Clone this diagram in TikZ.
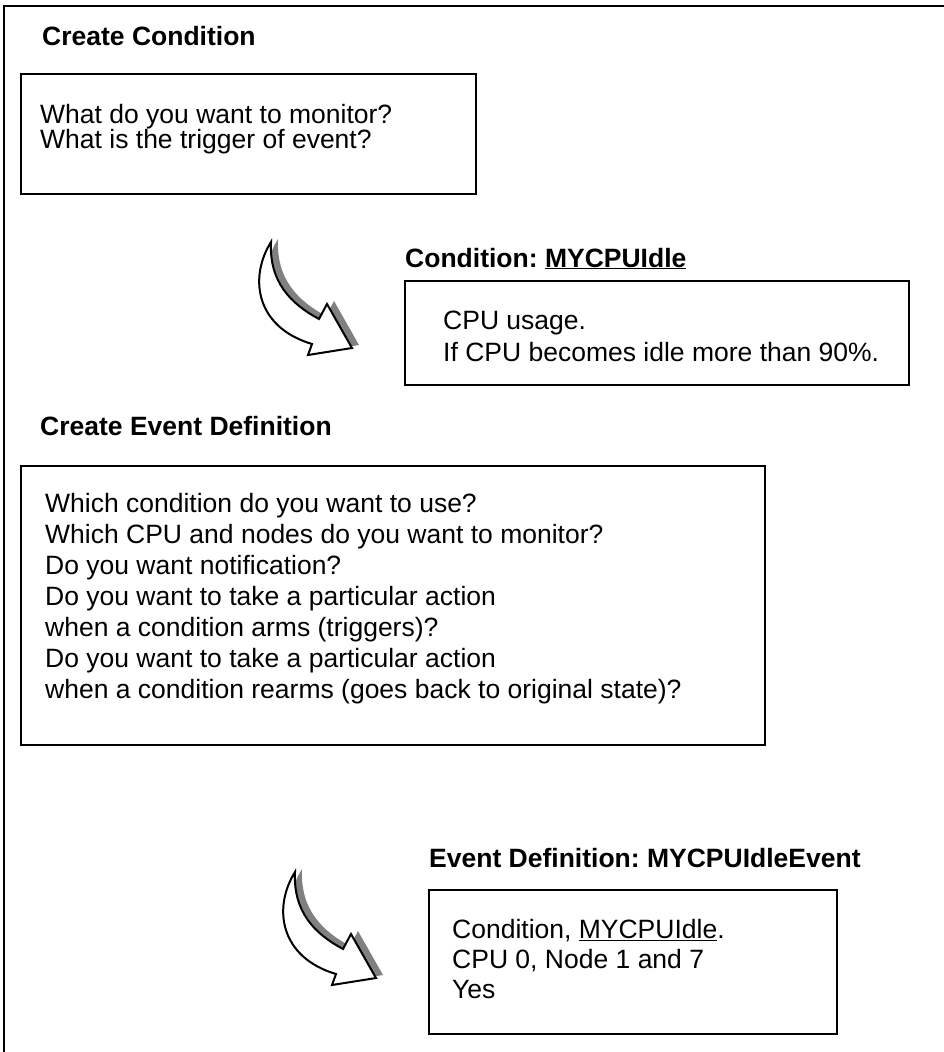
\documentclass[tikz,border=0pt]{standalone}
\usepackage{fontspec}
\setmainfont{Liberation Sans}
\frenchspacing
\definecolor{shadowgray}{HTML}{808080}
\tikzset{
  box/.style={draw, line width=2pt, anchor=north west, inner sep=0pt},
  txt/.style={anchor=north west, inner sep=0pt, align=left},
  ttl/.style={anchor=base west, inner sep=0pt, font=\bfseries\fontsize{26.5}{31}\selectfont},
  curvearrow/.pic={
    \fill[shadowgray, shift={(7,-3)}] (0,0) .. controls (-22,35) and (-16,85) .. (41,102)
      -- (37,113) -- (81,106) -- (56,62) -- (48,77) .. controls (20,62) and (-2,40) .. (0,0) -- cycle;
    \filldraw[fill=white, draw=black, line width=2pt, line join=miter] (0,0) .. controls (-22,35) and (-16,85) .. (41,102)
      -- (37,113) -- (81,106) -- (56,62) -- (48,77) .. controls (20,62) and (-2,40) .. (0,0) -- cycle;
  }
}
\begin{document}
\begin{tikzpicture}[x=1pt,y=-1pt]
\useasboundingbox (0,0) rectangle (944,1052);
% outer frame (top and left only)
\draw[line width=1.3pt] (4,1052) -- (4,6) -- (944,6);

% Create Condition
\node[ttl] (t1) at (42,45) {Create Condition};
\node[box, minimum width=455pt, minimum height=120pt] (b1) at (20,73) {};
\node[txt, font=\fontsize{26.5}{25}\selectfont] (x1) at (40,104)
  {What do you want to monitor?\\What is the trigger of event?};

% arrow 1
\pic (a1) at (271,242) {curvearrow};

% Condition: MYCPUIdle
\node[ttl] (t2) at (405,267) {Condition: \underline{MYCPUIdle}};
\node[box, minimum width=504pt, minimum height=104pt] (b2) at (404,280) {};
\node[txt, font=\fontsize{26.5}{32}\selectfont] (x2) at (443,311)
  {CPU usage.\\If CPU becomes idle more than 90\%.};

% Create Event Definition
\node[ttl] (t3) at (40,435) {Create Event Definition};
\node[box, minimum width=744pt, minimum height=279pt] (b3) at (20,465) {};
\node[txt, font=\fontsize{26.5}{31}\selectfont] (x3) at (45,493)
  {Which condition do you want to use?\\
   Which CPU and nodes do you want to monitor?\\
   Do you want notification?\\
   Do you want to take a particular action\\
   when a condition arms (triggers)?\\
   Do you want to take a particular action\\
   when a condition rearms (goes back to original state)?};

% arrow 2
\pic (a2) at (295,872) {curvearrow};

% Event Definition: MYCPUIdleEvent
\node[ttl] (t4) at (429,867) {Event Definition: MYCPUIdleEvent};
\node[box, minimum width=408pt, minimum height=144pt] (b4) at (428,889) {};
\node[txt, font=\fontsize{26.5}{30}\selectfont] (x4) at (452,919)
  {Condition, \underline{MYCPUIdle}.\\CPU 0, Node 1 and 7\\Yes};
\end{tikzpicture}
\end{document}
